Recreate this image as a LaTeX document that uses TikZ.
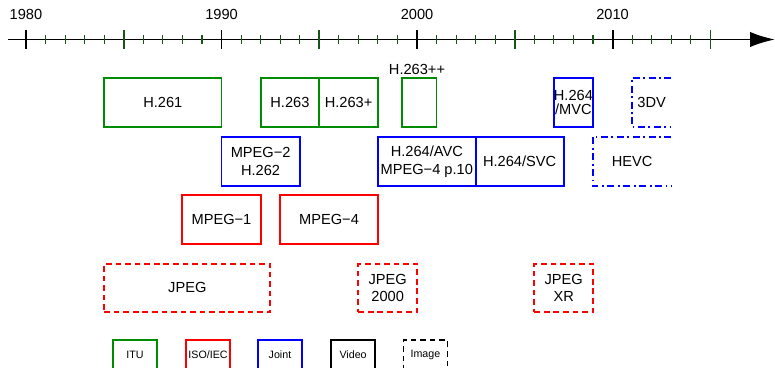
\documentclass[tikz,border=0pt]{standalone}
\usepackage{fontspec}
\setmainfont{Liberation Sans}
\usetikzlibrary{arrows.meta}
\definecolor{itugreen}{RGB}{0,140,0}
\definecolor{tickgreen}{RGB}{25,85,25}
\newcommand{\yr}{0.48875cm}

\begin{document}
\begin{tikzpicture}[x=\yr, y=-0.025cm,
    every node/.style={font=\fontsize{10.4}{12.5}\selectfont},
    box/.style={draw, line width=1.3pt, inner sep=0pt, minimum height=1.225cm, align=center},
    itu/.style={box, draw=itugreen},
    iso/.style={box, draw=red},
    joint/.style={box, draw=blue},
    img/.style={dash pattern=on 4pt off 2.8pt},
    openbox/.style={line width=1.3pt, blue, dash pattern=on 5pt off 2.5pt on 1.3pt off 2.5pt},
    legend/.style={draw, line width=1.3pt, inner sep=0pt, minimum width=1.1cm, minimum height=0.75cm, font=\fontsize{7.6}{9}\selectfont}]
    \useasboundingbox (-1.33,0) rectangle (38.31,368);
    \clip (-1.33,0) rectangle (38.31,368);

    % Zeitachse
    \draw[line width=1.4pt, -{Latex[length=0.62cm, width=0.38cm]}] (-0.92,39.5) -- (38.31,39.5);
    \foreach \j in {1,...,34}
        \draw[tickgreen, line width=0.8pt] (\j,35) -- (\j,44);
    \foreach \j in {5,15,25,35}
        \draw[tickgreen, line width=1.1pt] (\j,30) -- (\j,49);
    \foreach \j/\jahr in {0/1980,10/1990,20/2000,30/2010} {
        \draw[black, line width=1.4pt] (\j,30) -- (\j,49);
        \node (y\jahr) at (\j,14.5) {\jahr};
    }

    % ITU
    \node[itu, minimum width=6*\yr] (h261) at (7,102.5) {H.261};
    \node[itu, minimum width=3*\yr] (h263) at (13.5,102.5) {H.263};
    \node[itu, minimum width=3*\yr] (h263p) at (16.5,102.5) {H.263+};
    \node[itu, minimum width=1.75*\yr] (h263pp) at (20.125,102.5) {};
    \node (h263pplab) at (20,69) {H.263++};

    % Joint
    \node[joint, minimum width=2*\yr, font=\fontsize{10.4}{10}\selectfont] (mvc) at (28,102.5) {H.264\\/MVC};
    \node[joint, minimum width=4*\yr] (mpeg2) at (12,161.5) {MPEG−2\\H.262};
    \node[joint, minimum width=5*\yr] (avc) at (20.5,161.5) {H.264/AVC\\MPEG−4 p.10};
    \node[joint, minimum width=4.5*\yr] (svc) at (25.25,161.5) {H.264/SVC};
    \node[minimum width=2*\yr, minimum height=1.225cm] (dv3) at (32,102.5) {3DV};
    \node[minimum width=4*\yr, minimum height=1.225cm] (hevc) at (31,161.5) {HEVC};
    \draw[openbox] (dv3.north east) -- (dv3.north west) -- (dv3.south west) -- (dv3.south east);
    \draw[openbox] (hevc.north east) -- (hevc.north west) -- (hevc.south west) -- (hevc.south east);

    % ISO/IEC
    \node[iso, minimum width=4*\yr] (mpeg1) at (10,219.5) {MPEG−1};
    \node[iso, minimum width=5*\yr] (mpeg4) at (15.5,219.5) {MPEG−4};
    \node[iso, img, minimum width=8.5*\yr, minimum height=1.2cm] (jpeg) at (8.25,288) {JPEG};
    \node[iso, img, minimum width=3*\yr, minimum height=1.2cm] (jpeg2k) at (18.5,288) {JPEG\\2000};
    \node[iso, img, minimum width=3*\yr, minimum height=1.2cm] (jpegxr) at (27.5,288) {JPEG\\XR};

    % Legende
    \node[legend, draw=itugreen] (legitu) at (5.58,355) {ITU};
    \node[legend, draw=red] (legiso) at (9.31,355) {ISO/IEC};
    \node[legend, draw=blue] (legjoint) at (12.99,355) {Joint};
    \node[legend, draw=black] (legvideo) at (16.73,355) {Video};
    \node[legend, draw=black, img] (legimage) at (20.43,355) {Image};
\end{tikzpicture}
\end{document}
